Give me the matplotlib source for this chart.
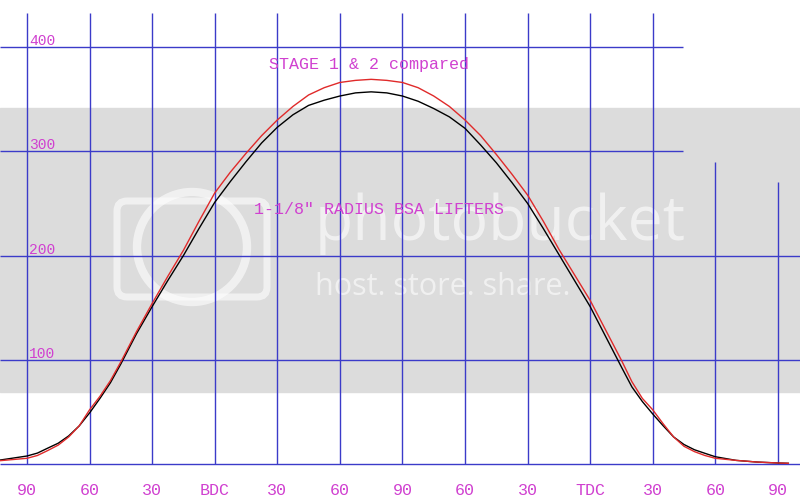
import matplotlib
matplotlib.use("Agg")
import matplotlib.pyplot as plt
import matplotlib.transforms as mtransforms
from matplotlib.patches import FancyBboxPatch, Circle

# crank angle (deg from start of plot) and lift (thou)
deg = [-13, 0, 5, 10, 15, 20, 25, 30, 35, 40, 45, 52.5, 60, 67.5, 75, 82.5, 90,
       97.5, 105, 112.5, 120, 127.5, 135, 142.5, 150, 157.5, 165, 172.5, 180,
       187.5, 195, 202.5, 210, 217.5, 225, 232.5, 240, 247.5, 255, 270, 285,
       290, 295, 300, 305, 310, 315, 320, 325, 330, 340, 350, 360, 365]
stage1 = [3.8, 7.7, 10.5, 15.3, 20, 27, 36.5, 49, 63, 78, 96, 125, 151, 176, 200,
          226, 251, 271, 290, 308, 323, 335, 344, 349, 353, 356, 357, 356, 353,
          348, 341, 333, 322, 306, 289, 270, 250, 226, 201, 151, 93,
          74, 60, 48, 36.7, 26, 18.7, 13.7, 10.3, 7, 3.5, 1.9, 1, 0.7]
stage2 = [3.2, 5.5, 8.2, 13, 18.2, 26, 36.5, 52, 65, 80, 98, 127, 154, 180, 205,
          233, 260, 280, 298, 315, 330, 343, 354, 361, 366, 368, 369, 368, 366,
          361, 353, 343, 330, 315, 297, 278, 258, 233, 206, 157, 99.5,
          79, 63, 52, 38.6, 26, 17, 11.9, 8.2, 5.5, 3.5, 1.9, 1, 0.7]

tick_deg = [0, 30, 60, 90, 120, 150, 180, 210, 240, 270, 300, 330, 360]
tick_labels = ["90", "60", "30", "BDC", "30", "60", "90", "60", "30", "TDC", "30", "60", "90"]
lift_levels = [0, 100, 200, 300, 400]

BLUE = "#3b3bc9"
MAGENTA = "#d040d0"
mono = "Liberation Mono"

fig = plt.figure(figsize=(8, 5), dpi=100)
ax = fig.add_axes([0, 0, 1, 1])
ax.set_xlim(-12.94, 370.6)
ax.set_ylim(-34.5, 445.1)
ax.axis("off")

# photobucket watermark band
ax.axhspan((464 - 392) / 1.0425, (464 - 108) / 1.0425, color="#dcdcdc", zorder=0)
ident = mtransforms.IdentityTransform()
ax.add_patch(FancyBboxPatch((117, 500 - 297), 150, 96, boxstyle="round,pad=0,rounding_size=10",
                            fill=False, ec="white", lw=5, alpha=0.6, transform=ident, zorder=1))
ax.add_patch(Circle((192, 500 - 247), 55, fill=False, ec="white", lw=6, alpha=0.6,
                    transform=ident, zorder=1))
ax.text(138, 215, "photobucket", fontsize=45, family="Open Sans", color="white",
        alpha=0.6, va="baseline", zorder=1)
ax.text(138, 162, "host. store. share.", fontsize=22, family="Open Sans", color="white",
        alpha=0.6, va="baseline", zorder=1)

# grid
for d in tick_deg:
    top = 432.6
    if d == 330:
        top = 289.7
    elif d == 360:
        top = 270.5
    ax.vlines(d, 0, top, color=BLUE, lw=1.0, zorder=2)
for lv in lift_levels:
    right = 314.5 if lv >= 300 else 370.6
    ax.hlines(lv, -12.94, right, color=BLUE, lw=1.0, zorder=2)

ax.plot(deg, stage1, color="black", lw=1.0, zorder=3)
ax.plot(deg, stage2, color="#e02a2a", lw=1.0, zorder=3)

for d, lab in zip(tick_deg, tick_labels):
    ax.text(d, -25, lab, ha="center", va="center", fontsize=12, family=mono, color=MAGENTA)
for lv in lift_levels[1:]:
    ax.text(1.0, lv - 1, str(lv), ha="left", va="bottom", fontsize=10.5, family=mono,
            color=MAGENTA, zorder=4)

ax.text(116, 383, "STAGE 1 & 2 compared", fontsize=12, family=mono, color=MAGENTA,
        va="center", zorder=4)
ax.text(109, 244, "1-1/8\" RADIUS BSA LIFTERS", fontsize=12, family=mono, color=MAGENTA,
        va="center", zorder=4)

fig.savefig("out.png", dpi=100)
